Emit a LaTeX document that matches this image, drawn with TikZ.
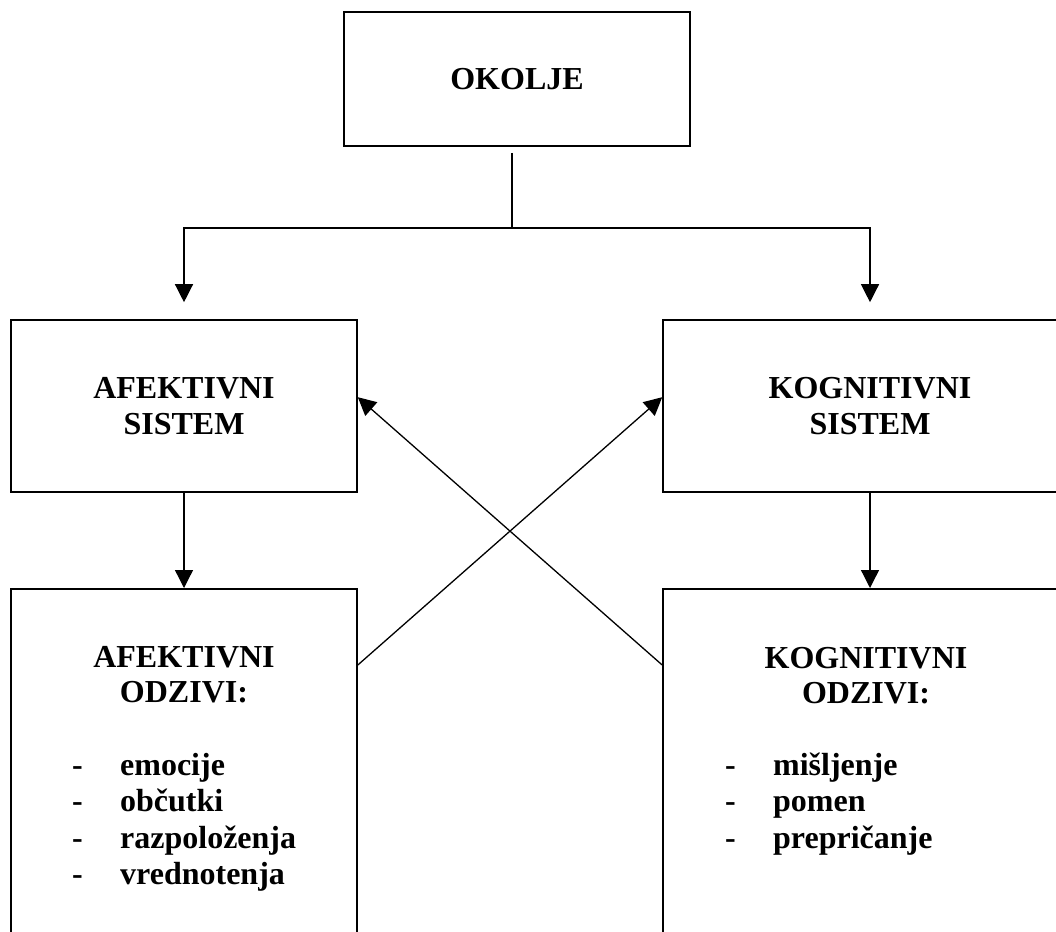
\documentclass[tikz,border=0pt]{standalone}
\usepackage{fontspec}
\setmainfont{Liberation Serif}
\usepackage{tikz}
\usetikzlibrary{arrows.meta}
\usetikzlibrary{calc}

\newcommand{\dashitem}[1]{\makebox[48pt][l]{-}#1}

\tikzset{
    box/.style={draw, line width=1.6pt, inner sep=0pt, align=center,
        font=\bfseries\fontsize{32}{36}\selectfont},
    lbl/.style={inner sep=0pt, align=center, font=\bfseries\fontsize{32}{35}\selectfont},
    items/.style={inner sep=0pt, font=\bfseries\fontsize{32}{36}\selectfont},
    conn/.style={line width=1.3pt},
    arr/.style={conn, -{Triangle[width=18pt,length=18pt]}}
}

\begin{document}
\begin{tikzpicture}[x=1pt,y=-1pt]
    \useasboundingbox (0,0) rectangle (1056,931);
    \clip (0,0) rectangle (1056,931);

    \node[box, minimum width=346pt, minimum height=134pt] (okolje) at (517,79) {OKOLJE};
    \node[box, minimum width=346pt, minimum height=172pt] (afsis) at (184,406) {AFEKTIVNI\\SISTEM};
    \node[box, minimum width=414pt, minimum height=172pt] (kogsis) at (870,406) {KOGNITIVNI\\SISTEM};
    \node[box, minimum width=346pt, minimum height=372pt, anchor=north] (afodz) at (184,588) {};
    \node[box, minimum width=414pt, minimum height=372pt, anchor=north] (kogodz) at (870,588) {};

    \node[lbl] (afodztitle) at (184,675) {AFEKTIVNI\\ODZIVI:};
    \node[lbl] (kogodztitle) at (866,676) {KOGNITIVNI\\ODZIVI:};
    \foreach \w [count=\i] in {emocije, občutki, razpoloženja, vrednotenja}
        \node[items, anchor=base west] (afitem\i) at (72,738.5+36.5*\i) {\dashitem{\w}};
    \foreach \w [count=\i] in {mišljenje, pomen, prepričanje}
        \node[items, anchor=base west] (kogitem\i) at (725,738.5+36.5*\i) {\dashitem{\w}};

    % razcep pod okoljem
    \coordinate (split) at (512,228);
    \draw[conn] ($(okolje.south -| split)+(0,6)$) -- (split);
    \draw[arr] (split) -| ($(afsis.north)+(0,-17)$);
    \draw[arr] (split) -| ($(kogsis.north)+(0,-17)$);

    \draw[arr] (afsis.south) -- (afodz.north);
    \draw[arr] (kogsis.south) -- (kogodz.north);

    % navzkrizni puscici
    \draw[arr] ($(afodz.north east)+(0,77)$) -- ($(kogsis.north west)+(0,78)$);
    \draw[arr] ($(kogodz.north west)+(0,77)$) -- ($(afsis.north east)+(0,78)$);
\end{tikzpicture}
\end{document}
